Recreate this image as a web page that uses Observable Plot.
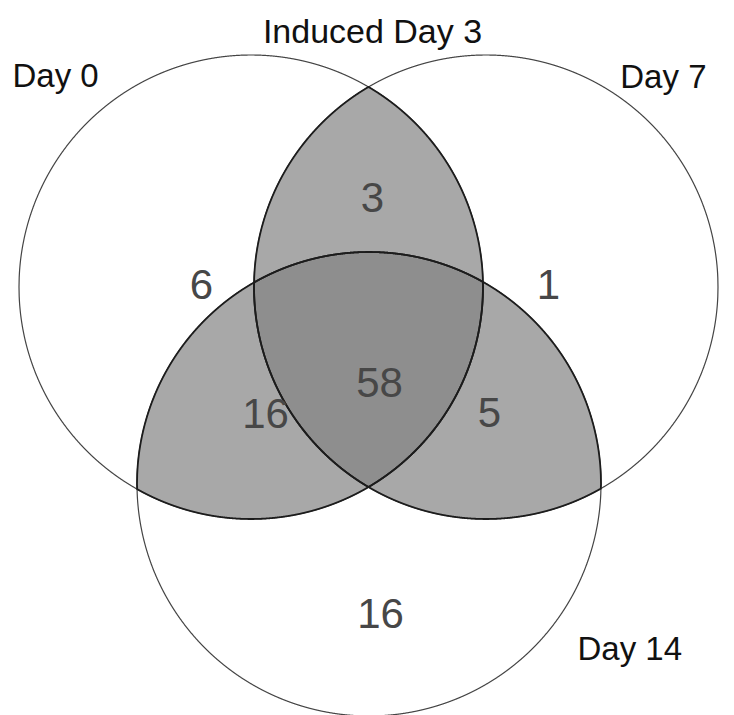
<!DOCTYPE html>
<html>
<head>
<meta charset="utf-8">
<script src="https://cdn.jsdelivr.net/npm/d3@7"></script>
<script src="https://cdn.jsdelivr.net/npm/@observablehq/plot@0.6"></script>
<style>
  body { margin: 0; background: #fff; }
  #chart svg { display: block; }
</style>
</head>
<body>
<div id="chart"></div>
<script>
// ---- data ----
const title = "Induced Day 3";
const setNames = ["Day 0", "Day 7", "Day 14"];
const regionSets = [
  ["Day 0"], ["Day 7"], ["Day 14"],
  ["Day 0", "Day 7"], ["Day 0", "Day 14"], ["Day 7", "Day 14"],
  ["Day 0", "Day 7", "Day 14"]
];
const regionCounts = [6, 1, 16, 3, 16, 5, 58];

// ---- layout (diagram geometry, in layout units) ----
const W = 734, H = 715;
const R = 232;
const circleCenters = {
  "Day 0":  {cx: 251, cy: 287},
  "Day 7":  {cx: 486, cy: 287},
  "Day 14": {cx: 369, cy: 484}
};
const setLabelPos = {
  "Day 0":  {x: 12,  y: 86,  anchor: "start"},
  "Day 7":  {x: 706, y: 87,  anchor: "end"},
  "Day 14": {x: 577, y: 659, anchor: "start"}
};
const titlePos = {x: 372, y: 42};
const countPos = [[201, 285], [548, 285], [380, 614], [372, 198], [265, 414], [489, 413], [379, 383]];

// Intersection of circles (convex), sampled along x -> {x, y1, y2}
function region(names, step = 0.2) {
  const cs = names.map(n => circleCenters[n]);
  const x0 = d3.max(cs, c => c.cx - R), x1 = d3.min(cs, c => c.cx + R);
  const pts = [];
  const xs = d3.range(x0, x1, step).concat([x1]);
  for (const x of xs) {
    let top = -Infinity, bot = Infinity;
    for (const c of cs) {
      const h = Math.sqrt(Math.max(0, R * R - (x - c.cx) ** 2));
      top = Math.max(top, c.cy - h);
      bot = Math.min(bot, c.cy + h);
    }
    if (top <= bot) pts.push({x, y1: top, y2: bot});
  }
  return pts;
}

const circles = setNames.map(n => region([n]));
const pairs = regionSets.filter(s => s.length === 2).map(s => region(s));
const triple = region(regionSets.find(s => s.length === 3));

const setLabels = setNames.map(n => ({name: n, ...setLabelPos[n]}));
const counts = regionCounts.map((v, i) => ({value: v, x: countPos[i][0], y: countPos[i][1]}));

const marks = [];
for (const c of circles) marks.push(Plot.areaY(c, {x: "x", y1: "y1", y2: "y2", fill: "none", stroke: "#444", strokeWidth: 1.2}));
for (const p of pairs) marks.push(Plot.areaY(p, {x: "x", y1: "y1", y2: "y2", fill: "#a8a8a8"}));
marks.push(Plot.areaY(triple, {x: "x", y1: "y1", y2: "y2", fill: "#8e8e8e"}));
for (const p of pairs) marks.push(Plot.areaY(p, {x: "x", y1: "y1", y2: "y2", fill: "none", stroke: "#1c1c1c", strokeWidth: 1.8}));

marks.push(Plot.text([title], {x: () => titlePos.x, y: () => titlePos.y, text: d => d, fontSize: 34, fill: "#111", textAnchor: "middle", lineAnchor: "bottom"}));
for (const a of ["start", "end"]) {
  marks.push(Plot.text(setLabels.filter(d => d.anchor === a), {x: "x", y: "y", text: "name", fontSize: 33, fill: "#111", textAnchor: a, lineAnchor: "bottom"}));
}
marks.push(Plot.text(counts, {x: "x", y: "y", text: d => String(d.value), fontSize: 42, fill: "#474747", textAnchor: "middle", lineAnchor: "middle"}));

const chart = Plot.plot({
  width: W, height: H,
  margin: 0,
  x: {domain: [0, W], range: [0, W], axis: null},
  y: {domain: [0, H], range: [0, H], axis: null},
  style: {fontFamily: "'Liberation Sans', Arial, Helvetica, sans-serif", background: "#fff"},
  marks
});
document.getElementById("chart").appendChild(chart);
</script>
</body>
</html>
